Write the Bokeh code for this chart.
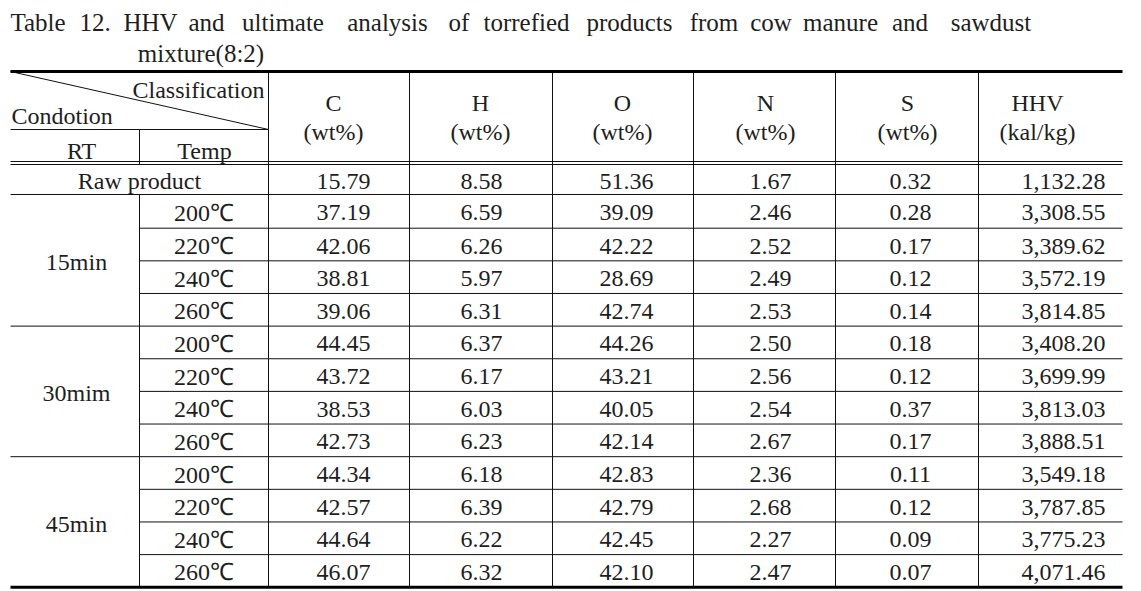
from bokeh.plotting import figure
from bokeh.models import Range1d, ColumnDataSource
from bokeh.core.properties import value
from bokeh.embed import file_html
from bokeh.resources import INLINE

# ---------------- data ----------------
title_line1 = "Table 12. HHV and ultimate analysis of torrefied products from cow manure and sawdust"
title_line2 = "mixture(8:2)"
corner_top = "Classification"
corner_left = "Condotion"
sub_headers = ["RT", "Temp"]
columns = ["C", "H", "O", "N", "S", "HHV"]
units = ["(wt%)", "(wt%)", "(wt%)", "(wt%)", "(wt%)", "(kal/kg)"]
raw_label = "Raw product"
rt_groups = ["15min", "30mim", "45min"]
temps = ["200℃", "220℃", "240℃", "260℃"]

C = [15.79, 37.19, 42.06, 38.81, 39.06, 44.45, 43.72, 38.53, 42.73, 44.34, 42.57, 44.64, 46.07]
H = [8.58, 6.59, 6.26, 5.97, 6.31, 6.37, 6.17, 6.03, 6.23, 6.18, 6.39, 6.22, 6.32]
O = [51.36, 39.09, 42.22, 28.69, 42.74, 44.26, 43.21, 40.05, 42.14, 42.83, 42.79, 42.45, 42.10]
N = [1.67, 2.46, 2.52, 2.49, 2.53, 2.50, 2.56, 2.54, 2.67, 2.36, 2.68, 2.27, 2.47]
S = [0.32, 0.28, 0.17, 0.12, 0.14, 0.18, 0.12, 0.37, 0.17, 0.11, 0.12, 0.09, 0.07]
HHV = [1132.28, 3308.55, 3389.62, 3572.19, 3814.85, 3408.20, 3699.99, 3813.03,
       3888.51, 3549.18, 3787.85, 3775.23, 4071.46]

# ---------------- layout (pixel-like coordinates) ----------------
FONT = value("Liberation Serif")
TXT = "#1e1e1e"
LINE = "#111111"

x_left, x_sub, x_c1, x_right = 10, 139, 268, 1122
col_edges = [268, 409, 552, 693, 835, 978, 1122]
head_cx = [333, 480, 622, 765, 907, 1037]
val_cx = [343, 481, 626, 770, 910, 1063]

y_top, y_mid, y_dbl1, y_dbl2 = 71, 129, 161, 164
bounds = [164, 194, 227.7] + [227.7 + 32.64 * k for k in range(1, 12)]
y_bottom = bounds[-1]

title_word_cx = [37.5, 94.5, 150, 206, 282.5, 387, 458.5, 526, 629, 713.5, 770.5, 840, 909.5, 990.5]

W, Hh = 1141, 591
p = figure(width=W, height=Hh, output_backend="svg", toolbar_location=None,
           x_range=Range1d(0, W), y_range=Range1d(Hh, 0),
           x_axis_type=None, y_axis_type=None, min_border=0,
           background_fill_color="white", border_fill_color="white")
p.outline_line_color = None
p.grid.visible = False

# ---------------- lines ----------------
thin = dict(x0=[], y0=[], x1=[], y1=[])


def seg(d, a, b, c, e):
    d["x0"].append(a); d["y0"].append(b); d["x1"].append(c); d["y1"].append(e)


seg(thin, x_left, y_dbl1, x_right, y_dbl1)
seg(thin, x_left, y_dbl2, x_right, y_dbl2)
seg(thin, x_left, y_mid, x_c1, y_mid)
seg(thin, x_left, y_top, x_c1, y_mid)  # diagonal
seg(thin, x_sub, y_mid, x_sub, y_dbl2)
seg(thin, x_sub, bounds[1], x_sub, y_bottom)
for xe in col_edges[:-1]:
    seg(thin, xe, y_top, xe, y_bottom)
n_rows = len(C)
for i in range(1, n_rows):
    yb = bounds[i]
    full = (i - 1) % 4 == 0
    seg(thin, x_left if full else x_sub, yb, x_right, yb)
p.segment(x0="x0", y0="y0", x1="x1", y1="y1", source=ColumnDataSource(thin),
          line_color=LINE, line_width=1)

thick = dict(x0=[], y0=[], x1=[], y1=[])
seg(thick, x_left, y_top, x_right, y_top)
seg(thick, x_left, y_bottom, x_right, y_bottom)
p.segment(x0="x0", y0="y0", x1="x1", y1="y1", source=ColumnDataSource(thick),
          line_color="#000000", line_width=3)

# ---------------- texts ----------------


def add_text(xs, ys, texts, size, align="center"):
    p.text(x=xs, y=ys, text=texts, text_font=FONT, text_font_size=size,
           text_color=TXT, text_align=align, text_baseline="middle")


# title
words = title_line1.split(" ")
add_text(title_word_cx, [21.5] * len(words), words, "25px")
add_text([200.5], [52.5], [title_line2], "25px")

# header
add_text([264], [89.5], [corner_top], "24px", align="right")
add_text([11], [115], [corner_left], "24px", align="left")
add_text([81, 204], [150, 150], sub_headers, "24px")
add_text(head_cx, [102.5] * 6, columns, "24px")
add_text(head_cx, [131.5] * 6, units, "24px")

# body
centers = [(bounds[i] + bounds[i + 1]) / 2 + 1.5 for i in range(n_rows)]
add_text([139], [centers[0]], [raw_label], "24px")
for g, lab in enumerate(rt_groups):
    gc = (bounds[1 + 4 * g] + bounds[5 + 4 * g]) / 2 + 2
    add_text([76], [gc], [lab], "24px")
    add_text([203.5] * 4, centers[1 + 4 * g: 5 + 4 * g], temps, "24px")

series = [C, H, O, N, S]
for k, vals in enumerate(series):
    add_text([val_cx[k]] * n_rows, centers, [f"{v:.2f}" for v in vals], "24px")
add_text([val_cx[5]] * n_rows, centers, [f"{v:,.2f}" for v in HHV], "24px")

open("out.html", "w").write(file_html(p, INLINE))
